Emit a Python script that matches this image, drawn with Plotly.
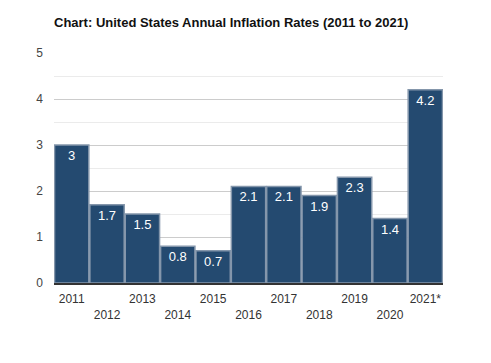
import plotly.graph_objects as go

years = ["2011", "2012", "2013", "2014", "2015", "2016", "2017", "2018", "2019", "2020", "2021*"]
rates = [3.0, 1.7, 1.5, 0.8, 0.7, 2.1, 2.1, 1.9, 2.3, 1.4, 4.2]
labels = ["3", "1.7", "1.5", "0.8", "0.7", "2.1", "2.1", "1.9", "2.3", "1.4", "4.2"]
ticktext = [y if i % 2 == 0 else "<br>" + y for i, y in enumerate(years)]

fig = go.Figure(go.Bar(
    x=list(range(len(years))), y=rates, text=labels,
    textposition="inside", insidetextanchor="end",
    textfont=dict(color="white", size=13, family="Liberation Sans, Arial"),
    marker=dict(color="#244a70", line=dict(color="#8496ab", width=1.5)),
    hoverinfo="skip",
))
fig.update_layout(
    width=491, height=363,
    margin=dict(l=54, r=48, t=53, b=80),
    paper_bgcolor="white", plot_bgcolor="white",
    bargap=0.03,
    showlegend=False,
    font=dict(family="Liberation Sans, Arial", size=12, color="#333333"),
    title=dict(text="<b>Chart: United States Annual Inflation Rates (2011 to 2021)</b>",
               x=54/491, xanchor="left", y=1-22/363, yanchor="middle",
               font=dict(size=13, color="#111111")),
)
fig.update_xaxes(
    tickmode="array", tickvals=list(range(len(years))), ticktext=ticktext,
    range=[-0.5, 10.5], showgrid=False, showline=True, linecolor="#333333", linewidth=1.5,
    ticks="", tickfont=dict(size=12, color="#333333"), ticklabelstandoff=4,
)
fig.update_yaxes(
    range=[0, 5], dtick=1, showgrid=True, gridcolor="#cccccc", gridwidth=1,
    zeroline=False, ticks="", tickfont=dict(size=12, color="#444444"),
    minor=dict(dtick=0.5, showgrid=True, gridcolor="#ebebeb", gridwidth=1),
    ticklabelstandoff=10,
)
fig.write_html("out.html", config={"displayModeBar": False},
               post_script="document.body.style.margin='0';")
